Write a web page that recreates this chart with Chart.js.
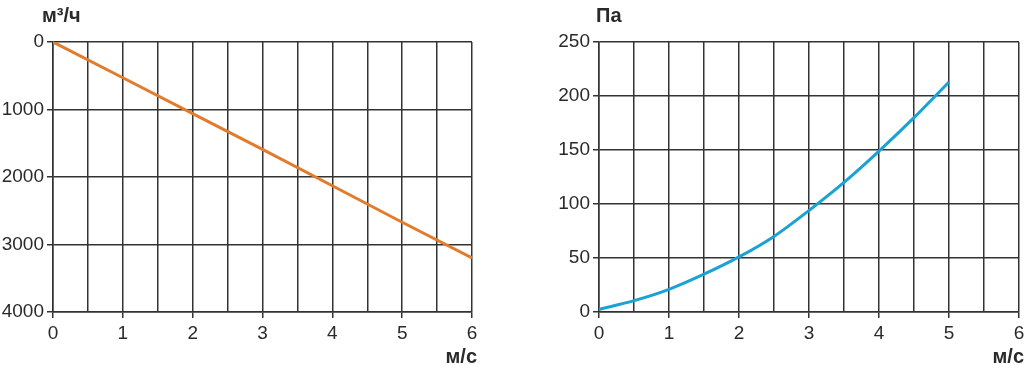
<!DOCTYPE html>
<html>
<head>
	<meta charset="utf-8">
	<title>flow and pressure</title>
	<script src="https://cdn.jsdelivr.net/npm/chart.js"></script>
	<style>
		html, body { margin: 0; padding: 0; background: #fff; overflow: hidden; }
		.wrap { position: relative; width: 1024px; height: 365px; overflow: hidden; }
		#flowChart { position: absolute; left: 0; top: 0; }
		#pressureChart { position: absolute; left: 512px; top: 0; }
	</style>
</head>
<body>
<div class="wrap">
	<canvas id="flowChart" width="512" height="365"></canvas>
	<canvas id="pressureChart" width="520" height="365"></canvas>
</div>

<script>
	// speed values (m/s) and readings
	const flowSpeed = [0, 1, 2, 3, 4, 5, 6];
	const flowValues = [0, 530, 1060, 1590, 2130, 2670, 3200];

	const pressSpeed = [0, 0.5, 1, 1.5, 2, 2.5, 3, 3.5, 4, 4.5, 5];
	const pressValues = [2.5, 10.5, 21, 35, 51, 70, 94, 120, 149, 180, 213];

	const flowTicks = [0, 1000, 2000, 3000, 4000];
	const pressTicks = [0, 50, 100, 150, 200, 250];

	const gridColor = '#333';
	const textColor = '#2a2a2a';
	const tickFont = { family: 'Liberation Sans, Arial, sans-serif', size: 19 };

	// draws the unit names at the ends of the axes
	const unitNames = {
		id: 'unitNames',
		afterDraw(chart, args, opts) {
			const ctx = chart.ctx;
			ctx.save();
			ctx.fillStyle = textColor;
			ctx.font = 'bold 20px Liberation Sans, Arial, sans-serif';
			ctx.textBaseline = 'alphabetic';
			ctx.textAlign = 'left';
			ctx.fillText(opts.top, opts.topX, 22);
			ctx.textAlign = 'right';
			ctx.fillText(opts.bottom, opts.bottomX, 363);
			ctx.restore();
		}
	};

	function xScale() {
		return {
			type: 'linear',
			min: 0,
			max: 6,
			afterFit: function(s) { s.height = 53; },
			ticks: {
				stepSize: 0.5,
				color: textColor,
				font: tickFont,
				padding: 4,
				maxRotation: 0,
				autoSkip: false,
				callback: function(v) { return Number.isInteger(v) ? String(v) : ''; }
			},
			grid: {
				color: gridColor,
				lineWidth: 1.5,
				tickLength: 6,
				tickColor: function(c) {
					return (c.tick && Number.isInteger(c.tick.value)) ? gridColor : 'rgba(0,0,0,0)';
				}
			},
			border: { color: gridColor, width: 1.5 }
		};
	}

	function yScale(min, max, step, reverse, width, ticksArr) {
		return {
			type: 'linear',
			min: min,
			max: max,
			reverse: reverse,
			afterFit: function(s) { s.width = width; },
			afterBuildTicks: function(s) { s.ticks = ticksArr.map(v => ({ value: v })); },
			ticks: {
				stepSize: step,
				color: textColor,
				font: tickFont,
				padding: 3,
				callback: function(v) { return String(v); }
			},
			grid: { color: gridColor, lineWidth: 1.5, tickLength: 6, tickColor: gridColor },
			border: { color: gridColor, width: 1.5 }
		};
	}

	// Left chart: air flow, axis reversed
	new Chart(document.getElementById('flowChart'), {
		type: 'line',
		data: {
			datasets: [{
				data: flowSpeed.map((s, i) => ({ x: s, y: flowValues[i] })),
				borderColor: '#E27C2C',
				borderWidth: 3,
				pointRadius: 0,
				fill: false,
				tension: 0
			}]
		},
		options: {
			responsive: false,
			animation: false,
			layout: { padding: { top: 42, right: 40, left: 0, bottom: 0 } },
			plugins: {
				legend: { display: false },
				tooltip: { enabled: false },
				unitNames: { top: 'м³/ч', topX: 42, bottom: 'м/с', bottomX: 477 }
			},
			scales: {
				x: xScale(),
				y: yScale(0, 4000, 1000, true, 53, flowTicks)
			}
		},
		plugins: [unitNames]
	});

	// Right chart: pressure
	new Chart(document.getElementById('pressureChart'), {
		type: 'line',
		data: {
			datasets: [{
				data: pressSpeed.map((s, i) => ({ x: s, y: pressValues[i] })),
				borderColor: '#1AA2D5',
				borderWidth: 3,
				pointRadius: 0,
				fill: false,
				tension: 0.3
			}]
		},
		options: {
			responsive: false,
			animation: false,
			layout: { padding: { top: 42, right: 13, left: 0, bottom: 0 } },
			plugins: {
				legend: { display: false },
				tooltip: { enabled: false },
				unitNames: { top: 'Па', topX: 84, bottom: 'м/с', bottomX: 512 }
			},
			scales: {
				x: xScale(),
				y: yScale(0, 250, 50, false, 87, pressTicks)
			}
		},
		plugins: [unitNames]
	});
</script>
</body>
</html>
